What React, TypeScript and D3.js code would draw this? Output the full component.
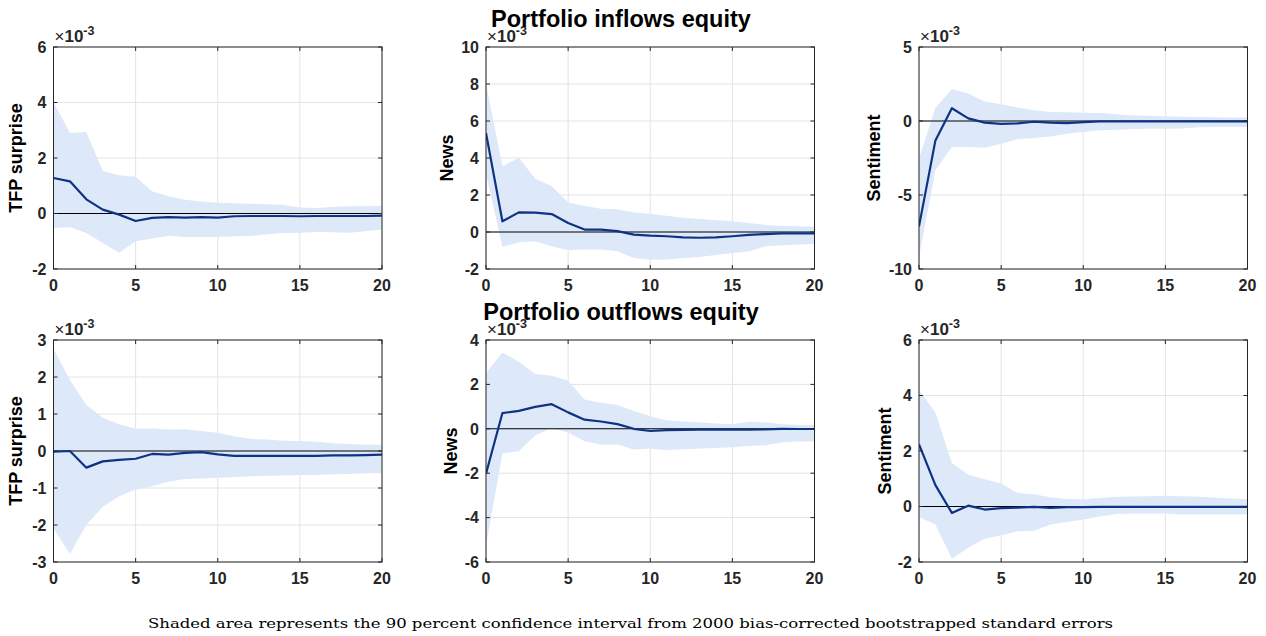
import * as d3 from 'd3';

// horizon (quarters)
const horizon = [0, 1, 2, 3, 4, 5, 6, 7, 8, 9, 10, 11, 12, 13, 14, 15, 16, 17, 18, 19, 20];

// values in units of 1e-3
const tfpInIrf = [1.28, 1.16, 0.51, 0.14, -0.04, -0.27, -0.16, -0.13, -0.15, -0.13, -0.15, -0.1, -0.09, -0.09, -0.09, -0.1, -0.09, -0.09, -0.09, -0.09, -0.08];
const tfpInHi = [4.02, 2.9, 2.94, 1.53, 1.38, 1.32, 0.8, 0.62, 0.5, 0.43, 0.39, 0.37, 0.35, 0.33, 0.31, 0.22, 0.2, 0.23, 0.26, 0.26, 0.27];
const tfpInLo = [-0.52, -0.49, -0.7, -1.06, -1.41, -1.0, -0.9, -0.8, -0.85, -0.85, -0.85, -0.82, -0.81, -0.75, -0.7, -0.69, -0.67, -0.68, -0.69, -0.64, -0.58];

const newsInIrf = [5.35, 0.58, 1.06, 1.05, 0.97, 0.49, 0.13, 0.13, 0.05, -0.14, -0.2, -0.23, -0.29, -0.31, -0.29, -0.23, -0.16, -0.11, -0.07, -0.07, -0.07];
const newsInHi = [8.02, 3.55, 4.02, 2.88, 2.49, 1.59, 1.4, 1.26, 1.23, 1.06, 0.99, 0.88, 0.77, 0.7, 0.63, 0.58, 0.49, 0.38, 0.32, 0.31, 0.29];
const newsInLo = [3.15, -0.81, -0.56, -0.5, -0.77, -0.99, -0.95, -0.94, -1.04, -1.41, -1.5, -1.48, -1.42, -1.35, -1.24, -1.14, -1.06, -0.77, -0.72, -0.67, -0.65];

const sentInIrf = [-7.12, -1.31, 0.86, 0.18, -0.11, -0.2, -0.16, -0.05, -0.11, -0.14, -0.07, -0.03, -0.03, -0.02, -0.02, -0.02, -0.02, -0.02, -0.02, -0.02, -0.02];
const sentInHi = [-2.55, 0.9, 2.14, 1.85, 1.31, 1.13, 0.92, 0.72, 0.61, 0.59, 0.56, 0.54, 0.45, 0.38, 0.36, 0.32, 0.29, 0.27, 0.25, 0.23, 0.23];
const sentInLo = [-9.19, -3.33, -1.76, -1.76, -1.8, -1.53, -1.22, -1.15, -1.04, -0.86, -0.74, -0.63, -0.59, -0.54, -0.52, -0.52, -0.5, -0.43, -0.41, -0.41, -0.41];

const tfpOutIrf = [-0.02, 0.0, -0.45, -0.28, -0.24, -0.21, -0.08, -0.1, -0.05, -0.03, -0.09, -0.13, -0.13, -0.13, -0.13, -0.13, -0.13, -0.12, -0.12, -0.11, -0.1];
const tfpOutHi = [2.76, 1.92, 1.24, 0.9, 0.72, 0.6, 0.61, 0.58, 0.59, 0.54, 0.49, 0.4, 0.33, 0.31, 0.28, 0.27, 0.25, 0.21, 0.19, 0.17, 0.17];
const tfpOutLo = [-2.1, -2.78, -1.99, -1.51, -1.22, -1.04, -0.95, -0.83, -0.76, -0.74, -0.72, -0.7, -0.68, -0.67, -0.66, -0.65, -0.65, -0.63, -0.62, -0.6, -0.6];

const newsOutIrf = [-2.02, 0.71, 0.81, 0.99, 1.11, 0.74, 0.41, 0.33, 0.21, 0.0, -0.1, -0.06, -0.05, -0.04, -0.04, -0.04, -0.04, -0.03, 0.0, -0.01, -0.01];
const newsOutHi = [2.5, 3.44, 3.02, 2.47, 2.39, 2.17, 1.32, 1.17, 1.07, 0.8, 0.57, 0.39, 0.33, 0.29, 0.24, 0.21, 0.32, 0.29, 0.21, 0.18, 0.17];
const newsOutLo = [-5.25, -1.11, -1.01, -0.29, 0.02, -0.17, -0.56, -0.71, -0.71, -0.93, -0.89, -0.96, -0.92, -0.89, -0.86, -0.83, -0.78, -0.74, -0.62, -0.57, -0.56];

const sentOutIrf = [2.24, 0.77, -0.23, 0.03, -0.11, -0.06, -0.04, -0.01, -0.05, -0.02, -0.02, -0.01, -0.01, -0.01, -0.01, -0.01, -0.01, -0.01, -0.01, -0.01, -0.01];
const sentOutHi = [4.2, 3.39, 1.57, 1.14, 0.98, 0.83, 0.49, 0.44, 0.33, 0.27, 0.26, 0.31, 0.35, 0.36, 0.37, 0.39, 0.37, 0.35, 0.32, 0.29, 0.26];
const sentOutLo = [-0.38, -0.65, -1.88, -1.49, -1.16, -1.04, -0.89, -0.87, -0.65, -0.56, -0.47, -0.36, -0.27, -0.25, -0.25, -0.25, -0.29, -0.29, -0.29, -0.29, -0.28];

const rowTitles = ['Portfolio inflows equity', 'Portfolio outflows equity'];
const shockLabels = ['TFP surprise', 'News', 'Sentiment'];
const xTicks = [0, 5, 10, 15, 20];

const yTicksList = [
  [-2, 0, 2, 4, 6],
  [-2, 0, 2, 4, 6, 8, 10],
  [-10, -5, 0, 5],
  [-3, -2, -1, 0, 1, 2, 3],
  [-6, -4, -2, 0, 2, 4],
  [-2, 0, 2, 4, 6],
];

const irfs = [tfpInIrf, newsInIrf, sentInIrf, tfpOutIrf, newsOutIrf, sentOutIrf];
const his = [tfpInHi, newsInHi, sentInHi, tfpOutHi, newsOutHi, sentOutHi];
const los = [tfpInLo, newsInLo, sentInLo, tfpOutLo, newsOutLo, sentOutLo];

const note = 'Shaded area represents the 90 percent confidence interval from 2000 bias-corrected bootstrapped standard errors';

// layout
const W = 1266;
const H = 636;
const colLeft = [53.5, 486, 919];
const plotW = 328.5;
const rowTop = [47, 340];
const plotH = 222;
const labelOffset = [31.5, 33, 39, 31.5, 29, 28];

const FONT = '"Liberation Sans", Arial, sans-serif';
const AXIS = '#262626';
const TICK_FS = 16;

function Panel({ idx }: { idx: number }) {
  const row = Math.floor(idx / 3);
  const col = idx % 3;
  const left = colLeft[col];
  const top = rowTop[row];
  const ticks = yTicksList[idx];
  const x = d3.scaleLinear().domain([0, 20]).range([left, left + plotW]);
  const y = d3
    .scaleLinear()
    .domain([ticks[0], ticks[ticks.length - 1]])
    .range([top + plotH, top]);

  const area = d3
    .area<number>()
    .x((d) => x(d))
    .y0((d) => y(los[idx][d]))
    .y1((d) => y(his[idx][d]));
  const line = d3
    .line<number>()
    .x((d) => x(d))
    .y((d) => y(irfs[idx][d]));

  const bottom = top + plotH;
  const right = left + plotW;
  const tl = 4;

  return (
    <g>
      <defs>
        <clipPath id={`clip${idx}`}>
          <rect x={left} y={top} width={plotW} height={plotH} />
        </clipPath>
      </defs>
      <rect x={left} y={top} width={plotW} height={plotH} fill="#ffffff" />
      {xTicks.map((t) => (
        <line key={`gx${t}`} x1={x(t)} x2={x(t)} y1={top} y2={bottom} stroke="#e3e3e3" strokeWidth={1} />
      ))}
      {ticks.map((t) => (
        <line key={`gy${t}`} x1={left} x2={right} y1={y(t)} y2={y(t)} stroke="#e3e3e3" strokeWidth={1} />
      ))}
      <g clipPath={`url(#clip${idx})`}>
        <path d={area(horizon) || ''} fill="#dde9f9" />
        <line x1={left} x2={right} y1={y(0)} y2={y(0)} stroke="#000000" strokeWidth={1.1} />
        <path d={line(horizon) || ''} fill="none" stroke="#0f3384" strokeWidth={2.2} strokeLinejoin="round" />
      </g>
      {/* box + inward ticks */}
      <rect x={left} y={top} width={plotW} height={plotH} fill="none" stroke={AXIS} strokeWidth={1} />
      {xTicks.map((t) => (
        <g key={`tx${t}`}>
          <line x1={x(t)} x2={x(t)} y1={bottom} y2={bottom - tl} stroke={AXIS} />
          <line x1={x(t)} x2={x(t)} y1={top} y2={top + tl} stroke={AXIS} />
          <text
            x={x(t)}
            y={bottom + 22}
            textAnchor="middle"
            fontFamily={FONT}
            fontWeight="bold"
            fontSize={TICK_FS}
            fill={AXIS}
          >
            {t}
          </text>
        </g>
      ))}
      {ticks.map((t) => (
        <g key={`ty${t}`}>
          <line x1={left} x2={left + tl} y1={y(t)} y2={y(t)} stroke={AXIS} />
          <line x1={right} x2={right - tl} y1={y(t)} y2={y(t)} stroke={AXIS} />
          <text
            x={left - 7}
            y={y(t) + 5.7}
            textAnchor="end"
            fontFamily={FONT}
            fontWeight="bold"
            fontSize={TICK_FS}
            fill={AXIS}
          >
            {t}
          </text>
        </g>
      ))}
      <text x={left + 1} y={top - 5} fontFamily={FONT} fill={AXIS}>
        <tspan fontSize={17}>×</tspan>
        <tspan fontSize={17} fontWeight="bold">10</tspan>
        <tspan fontSize={12.5} fontWeight="bold" dy={-7}>-3</tspan>
      </text>
      <text
        transform={`translate(${left - labelOffset[idx]},${top + plotH / 2}) rotate(-90)`}
        textAnchor="middle"
        fontFamily={FONT}
        fontWeight="bold"
        fontSize={18}
        fill="#000000"
      >
        {shockLabels[col]}
      </text>
    </g>
  );
}

export default function App() {
  return (
    <svg
      width={W}
      height={H}
      viewBox={`0 0 ${W} ${H}`}
      style={{ position: 'absolute', left: 0, top: 0, background: '#ffffff' }}
    >
      <rect x={0} y={0} width={W} height={H} fill="#ffffff" />
      {[0, 1, 2, 3, 4, 5].map((i) => (
        <Panel key={i} idx={i} />
      ))}
      {rowTitles.map((t, r) => (
        <text
          key={t}
          x={621}
          y={rowTop[r] - 20}
          textAnchor="middle"
          fontFamily={FONT}
          fontWeight="bold"
          fontSize={23.5}
          fill="#000000"
        >
          {t}
        </text>
      ))}
      <text
        x={148}
        y={628}
        textLength={965}
        lengthAdjust="spacingAndGlyphs"
        fontFamily='"DejaVu Serif", "Liberation Serif", serif'
        fontSize={13}
        fill="#000000"
      >
        {note}
      </text>
    </svg>
  );
}
